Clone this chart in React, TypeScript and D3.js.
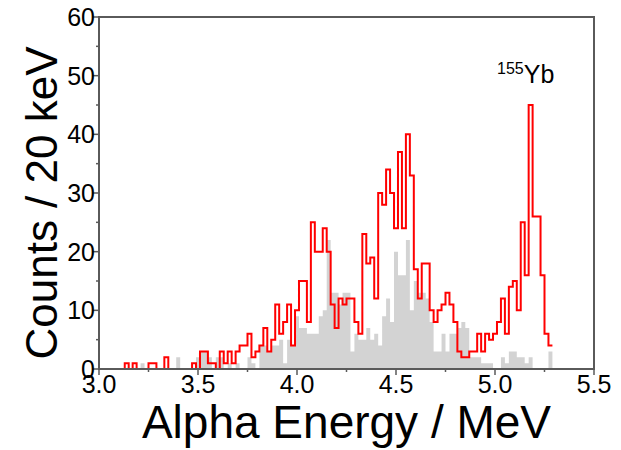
import React from "react"
import * as d3 from "d3"

// 20 keV bins, centred on 3.00, 3.02, ... 5.28 MeV
const binStart = 3.0
const binWidth = 0.02

// red histogram (counts per bin)
const redCounts = [
  0, 0, 0, 0, 0, 0, 0, 1, 0, 1, 0, 0, 0, 1, 1, 0, 0, 2, 0, 0,
  0, 0, 0, 0, 1, 0, 3, 3, 1, 1, 0, 3, 1, 3, 1, 3, 4, 4, 6, 2,
  3, 4, 7, 3, 5, 11, 6, 8, 11, 4, 10, 15, 15, 8, 25, 20, 20, 24, 20, 11,
  7, 12, 11, 12, 12, 8, 6, 23, 18, 19, 12, 30, 28, 34, 30, 24, 37, 24, 40, 33,
  17, 12, 18, 18, 10, 8, 10, 11, 13, 11, 8, 3, 2, 2, 3, 3, 6, 3, 6, 5,
  6, 8, 12, 6, 14, 15, 10, 25, 16, 45, 26, 26, 16, 6, 4,
]

// grey histogram (counts per bin)
const greyCounts = [
  0, 0, 0, 0, 0, 0, 0, 0, 0, 0, 0, 1, 0, 0, 0, 0, 0, 0, 0, 0,
  2, 0, 0, 0, 0, 2, 3, 3, 2, 0, 2, 2, 0, 1, 0, 1, 0, 0, 2, 1,
  0, 4, 4, 3, 4, 4, 5, 1, 5, 4, 9, 7, 7, 6, 6, 6, 9, 10, 22, 13,
  13, 11, 13, 13, 3, 6, 5, 5, 7, 5, 6, 4, 9, 12, 8, 20, 16, 16, 22, 10,
  15, 13, 13, 12, 8, 3, 3, 6, 3, 6, 6, 7, 8, 7, 2, 2, 2, 1, 1, 1,
  0, 0, 2, 1, 3, 3, 2, 2, 1, 2, 0, 0, 0, 0, 3,
]

const xTicks = [3.0, 3.5, 4.0, 4.5, 5.0, 5.5]
const xMinorTicks = [3.25, 3.75, 4.25, 4.75, 5.25]
const yTicks = [0, 10, 20, 30, 40, 50, 60]
const yMinorTicks = [5, 15, 25, 35, 45, 55]

const font = "'Liberation Sans', Arial, sans-serif"

const App = () => {
  const width = 621
  const height = 450
  const left = 99
  const right = 594
  const top = 17
  const bottom = 369

  const x = d3.scaleLinear().domain([3.0, 5.5]).range([left, right])
  const y = d3.scaleLinear().domain([0, 60]).range([bottom, top])

  const edge = (k: number) => Math.max(3.0, binStart + k * binWidth - binWidth / 2)

  const stepPoints = (counts: number[]) => {
    const pts: [number, number][] = counts.map((c, k) => [edge(k), c])
    pts.push([edge(counts.length), counts[counts.length - 1]])
    return pts
  }

  const redLine = d3
    .line<[number, number]>()
    .x((d) => x(d[0]))
    .y((d) => y(d[1]))
    .curve(d3.curveStepAfter)

  const greyArea = d3
    .area<[number, number]>()
    .x((d) => x(d[0]))
    .y0(y(0))
    .y1((d) => y(d[1]))
    .curve(d3.curveStepAfter)

  const axisColor = "#5a5a5a"

  return (
    <svg
      width={width}
      height={height}
      style={{ position: "absolute", left: 0, top: 0, background: "#fff" }}
    >
      <path d={greyArea(stepPoints(greyCounts)) || ""} fill="#d3d3d3" />
      <path
        d={redLine(stepPoints(redCounts)) || ""}
        fill="none"
        stroke="#ff0000"
        strokeWidth={2}
      />

      <rect
        x={left}
        y={top}
        width={right - left}
        height={bottom - top}
        fill="none"
        stroke={axisColor}
        strokeWidth={2}
      />

      {xTicks.map((t) => (
        <g key={t} transform={`translate(${x(t)}, ${bottom})`}>
          <line y2={6} stroke={axisColor} strokeWidth={1.5} />
          <text
            y={24}
            textAnchor="middle"
            fontSize={25}
            fontFamily={font}
            fill="#000"
          >
            {t.toFixed(1)}
          </text>
        </g>
      ))}
      {xMinorTicks.map((t) => (
        <line
          key={t}
          x1={x(t)}
          x2={x(t)}
          y1={bottom}
          y2={bottom + 3}
          stroke={axisColor}
          strokeWidth={1.5}
        />
      ))}

      {yTicks.map((t) => (
        <g key={t} transform={`translate(${left}, ${y(t)})`}>
          <line x2={-6} stroke={axisColor} strokeWidth={1.5} />
          <text
            x={-4}
            dy="0.36em"
            textAnchor="end"
            fontSize={25}
            fontFamily={font}
            fill="#000"
          >
            {t}
          </text>
        </g>
      ))}
      {yMinorTicks.map((t) => (
        <line
          key={t}
          x1={left}
          x2={left - 3}
          y1={y(t)}
          y2={y(t)}
          stroke={axisColor}
          strokeWidth={1.5}
        />
      ))}

      <text
        x={(left + right) / 2}
        y={438}
        textAnchor="middle"
        fontSize={46}
        fontFamily={font}
        fill="#000"
      >
        Alpha Energy / MeV
      </text>
      <text
        transform="translate(57, 203) rotate(-90)"
        textAnchor="middle"
        fontSize={44}
        fontFamily={font}
        fill="#000"
      >
        Counts / 20 keV
      </text>

      <text x={497} y={83} fontFamily={font} fill="#000">
        <tspan fontSize={16} dy={-9}>
          155
        </tspan>
        <tspan fontSize={25} dy={9}>
          Yb
        </tspan>
      </text>
    </svg>
  )
}

export default App
